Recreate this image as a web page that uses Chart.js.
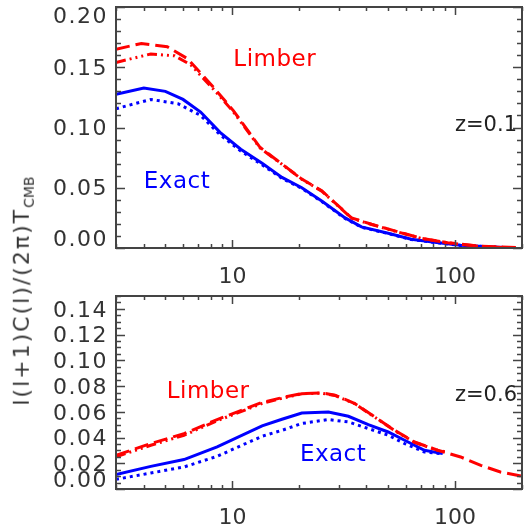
<!DOCTYPE html>
<html>
<head>
<meta charset="utf-8">
<script src="https://cdn.jsdelivr.net/npm/chart.js@4"></script>
<style>
  body { margin: 0; background: #fff; width: 524px; height: 529px; position: relative; overflow: hidden; }
  canvas { position: absolute; left: 0; }
  #topPanel { top: 0; }
  #botPanel { top: 290px; }
  #ytitle {
    position: absolute; left: 23px; top: 291px;
    transform: translate(-50%, -50%) rotate(-90deg);
    font: 22px "DejaVu Sans"; color: #333; white-space: nowrap; letter-spacing: 2px;
  }
  #ytitle sub { font-size: 14px; letter-spacing: 0; }
</style>
</head>
<body>
<canvas id="topPanel" width="524" height="290"></canvas>
<canvas id="botPanel" width="524" height="239"></canvas>
<div id="ytitle">l(l+1)C(l)/(2π)T<sub>CMB</sub></div>
<script>
// ---- data (multipole l vs l(l+1)C(l)/2pi) ----
// z = 0.1 panel
const topLimberL   = [3, 3.9, 5.1, 6.3, 8.2, 10.1, 13.3, 16.7, 20.5, 25.2, 34.3, 42.2, 53.6, 70.5, 92.7, 130.6, 200];
const topLimberY   = [0.165, 0.1697, 0.167, 0.157, 0.1336, 0.114, 0.0836, 0.0697, 0.0572, 0.0475, 0.025, 0.0197, 0.0142, 0.0081, 0.0044, 0.0014, 0.0003];
const topLimber2L  = [3, 4.3, 5.5, 6.5, 8.2, 10.1, 13.3, 16.7, 20.5, 25.2, 34.3, 42.2, 53.6, 70.5, 92.7, 130.6, 172];
const topLimber2Y  = [0.154, 0.161, 0.1595, 0.152, 0.132, 0.113, 0.083, 0.0695, 0.057, 0.0472, 0.0248, 0.0195, 0.014, 0.008, 0.0043, 0.0013, 0.0003];
const topExactL    = [3, 4.0, 5.0, 6.0, 7.2, 8.8, 10.9, 13.6, 16.7, 20.5, 25.2, 32.1, 38, 50.1, 63.6, 80.9, 106, 172];
const topExactY    = [0.1275, 0.1328, 0.130, 0.1233, 0.1128, 0.096, 0.082, 0.0703, 0.0586, 0.050, 0.039, 0.025, 0.0175, 0.0122, 0.0072, 0.0047, 0.0022, 0.0003];
const topExact2L   = [3, 4.3, 5.7, 7.2, 8.8, 10.9, 13.6, 16.7, 20.5, 25.2, 32.1, 38, 50.1, 63.6, 80.9, 106, 172];
const topExact2Y   = [0.1156, 0.1233, 0.1197, 0.110, 0.094, 0.0805, 0.069, 0.0578, 0.0495, 0.0385, 0.0245, 0.0172, 0.012, 0.0071, 0.0046, 0.0021, 0.0003];

// z = 0.6 panel
const botLimberL   = [3, 4.3, 6.06, 8.54, 13.6, 16.7, 20.5, 25.2, 28.9, 35.5, 43.6, 53.6, 65.8, 83.7, 106, 130.6, 160, 200];
const botLimberY   = [0.0262, 0.0353, 0.043, 0.054, 0.0673, 0.071, 0.0742, 0.0747, 0.0729, 0.0664, 0.056, 0.0456, 0.0365, 0.0301, 0.0249, 0.0184, 0.0132, 0.0099];
const botLimber2L  = [3, 4.3, 6.06, 8.54, 13.6, 16.7, 20.5, 25.2, 28.9, 35.5, 43.6, 53.6, 65.8, 83.7, 90];
const botLimber2Y  = [0.025, 0.034, 0.0418, 0.053, 0.0665, 0.0705, 0.074, 0.0745, 0.0727, 0.0662, 0.0558, 0.0454, 0.0363, 0.03, 0.029];
const botExactL    = [3, 4.3, 6.06, 8.54, 13.6, 16.7, 20.5, 27.0, 33.2, 40.8, 50.1, 59.4, 72.9, 88.1];
const botExactY    = [0.0112, 0.0176, 0.0229, 0.0327, 0.049, 0.0542, 0.0591, 0.0599, 0.0565, 0.050, 0.0443, 0.0379, 0.0301, 0.0275];
const botExact2L   = [3, 4.3, 6.06, 8.54, 13.6, 16.7, 20.5, 27.0, 33.2, 40.8, 50.1, 59.4, 72.9, 86.6];
const botExact2Y   = [0.0075, 0.0124, 0.0171, 0.0254, 0.041, 0.0456, 0.0509, 0.054, 0.0521, 0.047, 0.0418, 0.0353, 0.0288, 0.0275];

// axis ticks
const xMinorTicks = [3, 4, 5, 6, 7, 8, 9, 10, 20, 30, 40, 50, 60, 70, 80, 90, 100, 200];
const xMajorTicks = [10, 100];

const RED = '#ff0000';
const BLUE = '#0000ff';

// zip two arrays into {x, y} points
function pts(xs, ys) {
  return xs.map((v, i) => ({ x: v, y: ys[i] }));
}

// IDL style frame: inward ticks on all four sides, labels, and notes
const idlAxes = {
  id: 'idl',
  afterDraw(chart, args, o) {
    const { ctx, chartArea: a, scales: { x, y } } = chart;
    ctx.save();
    ctx.strokeStyle = '#444';
    ctx.lineWidth = 1.5;

    ctx.beginPath();
    xMinorTicks.forEach(v => {
      const px = Math.round(x.getPixelForValue(v)) + 0.5;
      const len = xMajorTicks.includes(v) ? 8 : 4;
      ctx.moveTo(px, a.bottom); ctx.lineTo(px, a.bottom - len);
      ctx.moveTo(px, a.top); ctx.lineTo(px, a.top + len);
    });
    const n = Math.round(o.yMax / o.yMinor);
    const every = Math.round(o.yMajor / o.yMinor);
    for (let i = 0; i <= n; i++) {
      const py = Math.round(y.getPixelForValue(i * o.yMinor)) + 0.5;
      const len = i % every === 0 ? 9 : 5;
      ctx.moveTo(a.left, py); ctx.lineTo(a.left + len, py);
      ctx.moveTo(a.right, py); ctx.lineTo(a.right - len, py);
    }
    ctx.stroke();

    // frame
    ctx.lineWidth = 2;
    ctx.strokeRect(a.left, a.top, a.right - a.left, a.bottom - a.top);

    // y tick labels
    ctx.fillStyle = '#333';
    ctx.font = '22px "DejaVu Sans"';
    ctx.letterSpacing = '1.5px';
    ctx.textAlign = 'right';
    ctx.textBaseline = 'middle';
    o.yLabels.forEach(v => {
      let py = y.getPixelForValue(v) + 2;
      if (v === 0) py -= 10;
      if (py - a.top < 8) py += 8;
      ctx.fillText(v.toFixed(2), a.left - 8, py);
    });

    // x tick labels
    ctx.letterSpacing = '0px';
    ctx.textAlign = 'center';
    xMajorTicks.forEach(v => {
      ctx.fillText(String(v), x.getPixelForValue(v), a.bottom + 29);
    });

    // notes
    ctx.textAlign = 'left';
    o.notes.forEach(t => {
      ctx.fillStyle = t.color;
      ctx.font = t.size + 'px "DejaVu Sans"';
      ctx.letterSpacing = t.spacing + 'px';
      ctx.fillText(t.text, x.getPixelForValue(t.l), y.getPixelForValue(t.v));
    });
    ctx.restore();
  }
};

function makePanel(id, sets, cfg) {
  const canvas = document.getElementById(id);
  return new Chart(canvas, {
    type: 'line',
    data: {
      datasets: sets.map(s => ({
        data: s.data,
        borderColor: s.color,
        borderWidth: 3,
        borderDash: s.dash,
        pointRadius: 0,
        tension: 0,
        fill: false
      }))
    },
    options: {
      responsive: false,
      animation: false,
      devicePixelRatio: 1,
      layout: { padding: { top: cfg.padTop, right: 2, left: 0, bottom: 0 } },
      plugins: {
        legend: { display: false },
        tooltip: { enabled: false },
        idl: cfg
      },
      scales: {
        x: {
          type: 'logarithmic', min: 3, max: 200,
          ticks: { display: false },
          grid: { display: false },
          border: { display: false },
          afterFit: s => { s.height = cfg.xHeight; }
        },
        y: {
          min: 0, max: cfg.yMax,
          ticks: { display: false },
          grid: { display: false },
          border: { display: false },
          afterFit: s => { s.width = 116; }
        }
      }
    },
    plugins: [idlAxes]
  });
}

const dashLong = [14, 6];
const dashDot3 = [10, 4, 2, 4, 2, 4, 2, 4];
const dotted = [3, 4];

makePanel('topPanel', [
  { data: pts(topLimberL, topLimberY), color: RED, dash: dashLong },
  { data: pts(topLimber2L, topLimber2Y), color: RED, dash: dashDot3 },
  { data: pts(topExactL, topExactY), color: BLUE, dash: [] },
  { data: pts(topExact2L, topExact2Y), color: BLUE, dash: dotted }
], {
  padTop: 7, xHeight: 42, yMax: 0.2, yMinor: 0.01, yMajor: 0.05,
  yLabels: [0, 0.05, 0.1, 0.15, 0.2],
  notes: [
    { text: 'Limber', l: 10.1, v: 0.156, color: RED, size: 23, spacing: 0.5 },
    { text: 'Exact', l: 4.0, v: 0.055, color: BLUE, size: 23, spacing: 0.5 },
    { text: 'z=0.1', l: 100, v: 0.1017, color: '#222', size: 21, spacing: 0 }
  ]
});

makePanel('botPanel', [
  { data: pts(botLimberL, botLimberY), color: RED, dash: dashLong },
  { data: pts(botLimber2L, botLimber2Y), color: RED, dash: dashDot3 },
  { data: pts(botExactL, botExactY), color: BLUE, dash: [] },
  { data: pts(botExact2L, botExact2Y), color: BLUE, dash: dotted }
], {
  padTop: 6, xHeight: 40, yMax: 0.15, yMinor: 0.005, yMajor: 0.02,
  yLabels: [0, 0.02, 0.04, 0.06, 0.08, 0.1, 0.12, 0.14],
  notes: [
    { text: 'Limber', l: 5.07, v: 0.0754, color: RED, size: 23, spacing: 0.5 },
    { text: 'Exact', l: 20.1, v: 0.0262, color: BLUE, size: 23, spacing: 0.5 },
    { text: 'z=0.6', l: 100, v: 0.0729, color: '#222', size: 21, spacing: 0 }
  ]
});
</script>
</body>
</html>
